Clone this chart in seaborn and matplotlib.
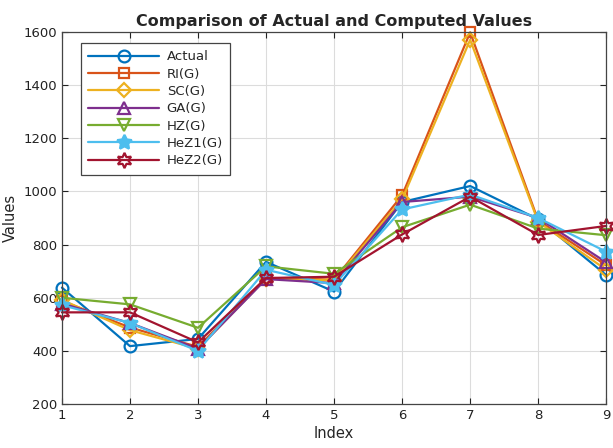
import numpy as np
import pandas as pd
import matplotlib
matplotlib.use("Agg")
import matplotlib.pyplot as plt
import seaborn as sns

# Observation index and the series compared against it
index = [1, 2, 3, 4, 5, 6, 7, 8, 9]
series_names = ["Actual", "RI(G)", "SC(G)", "GA(G)", "HZ(G)", "HeZ1(G)", "HeZ2(G)"]

actual = [638, 418, 445, 735, 623, 960, 1020, 895, 685]
ri_g = [588, 488, 415, 675, 668, 985, 1598, 890, 722]
sc_g = [592, 478, 408, 672, 665, 970, 1570, 885, 705]
ga_g = [578, 505, 408, 670, 655, 960, 980, 900, 733]
hz_g = [600, 575, 487, 718, 690, 865, 950, 860, 835]
hez1_g = [572, 505, 400, 705, 648, 932, 988, 900, 773]
hez2_g = [545, 545, 432, 674, 679, 838, 980, 836, 870]

y_ticks = [200, 400, 600, 800, 1000, 1200, 1400, 1600]

values = [actual, ri_g, sc_g, ga_g, hz_g, hez1_g, hez2_g]
df = pd.DataFrame({
    "Index": np.tile(index, len(series_names)),
    "Values": np.concatenate(values),
    "Series": np.repeat(series_names, len(index)),
})

colors = ["#0072BD", "#D95319", "#EDB120", "#7E2F8E", "#77AC30", "#4DBEEE", "#A2142F"]
markers = ["o", "s", "D", "^", "v", (5, 1, 0), (6, 1, 0)]
msizes = [8.5, 7.5, 7, 8.5, 8.5, 11, 11]
filled = [False, False, False, False, False, True, False]

sns.set_style("white")
plt.rcParams["font.family"] = ["DejaVu Sans"]

fig = plt.figure(figsize=(6.13, 4.48), dpi=100)
ax = fig.add_axes([0.101, 0.098, 0.888, 0.831])

for name, c, m, ms, f in zip(series_names, colors, markers, msizes, filled):
    sns.lineplot(
        data=df[df["Series"] == name], x="Index", y="Values", ax=ax,
        color=c, marker=m, markersize=ms, linewidth=1.6,
        markerfacecolor=(c if f else "none"), markeredgecolor=c,
        markeredgewidth=1.6, label=name, clip_on=False,
    )

ax.set_xlim(1, 9)
ax.set_ylim(200, 1600)
ax.set_xticks(index)
ax.set_yticks(y_ticks)
ax.grid(True, color="#dcdcdc", linewidth=0.8)
ax.tick_params(direction="in", length=4, labelsize=9.5, colors="#222222",
               top=True, right=True, bottom=True, left=True)
for s in ax.spines.values():
    s.set_color("#444444")
    s.set_linewidth(0.9)

ax.set_title("Comparison of Actual and Computed Values", fontsize=11.5,
             fontweight="bold", pad=4)
ax.set_xlabel("Index", fontsize=10.5, labelpad=3)
ax.set_ylabel("Values", fontsize=10.5, labelpad=4)

leg = ax.legend(loc="upper left", bbox_to_anchor=(0.035, 0.97), borderaxespad=0,
                fontsize=9.5, frameon=True, fancybox=False, framealpha=1,
                edgecolor="#444444", handlelength=5.4, labelspacing=0.33,
                borderpad=0.55, handletextpad=0.55)
leg.get_frame().set_linewidth(0.9)

fig.savefig("out.png", dpi=100)
